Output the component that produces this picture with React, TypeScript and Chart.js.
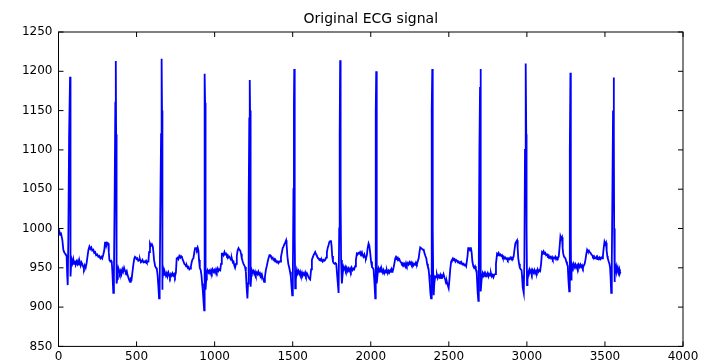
import React, { useEffect, useRef } from "react";
import { Chart, registerables } from "chart.js";

Chart.register(...registerables);

const chartTitle = "Original ECG signal";
const xRange = [0, 4000];
const xStep = 500;
const yRange = [850, 1250];
const yStep = 50;

// [sample index, amplitude]
const ecgTrace: [number, number][] = [
  [0,1000],[5,997],[10,992],[15,995],[20,990],[25,985],[31,973],[36,970],[42,968],[48,966],[52,965],[56,940],[59,928],[63,990],[68,1120],[74,1193],[76,1100],[78,939],[81,955],[85,960],[90,956],[95,961],[100,955],[105,959],[110,954],[116,958],[121,955],[126,959],[132,954],[137,957],[142,953],[147,957],[152,955],[157,952],[163,949],[168,953],[174,950],[180,956],[186,965],[192,973],[198,977],[204,974],[210,976],[216,972],[223,973],[229,969],[235,970],[241,966],[248,967],[255,964],[261,965],[268,962],[274,964],[280,962],[287,967],[293,972],[298,982],[302,983],[306,978],[312,982],[319,981],[322,970],[326,960],[332,958],[337,959],[341,958],[345,945],[351,918],[355,940],[360,1050],[364,1160],[367,1213],[369,1120],[371,990],[373,930],[376,936],[380,945],[383,950],[388,947],[393,943],[398,946],[403,942],[409,948],[414,945],[420,950],[426,946],[431,944],[437,946],[442,941],[447,938],[452,935],[458,932],[463,936],[468,935],[474,945],[480,955],[486,962],[490,964],[495,963],[500,961],[506,962],[511,959],[517,960],[522,961],[528,957],[533,958],[538,960],[544,957],[550,958],[555,957],[561,959],[566,957],[571,958],[576,958],[580,970],[586,981],[592,978],[598,980],[604,977],[608,970],[612,960],[619,952],[625,950],[630,948],[635,940],[640,925],[644,911],[648,925],[652,1020],[657,1120],[660,1200],[661,1216],[663,1150],[664,1000],[665,922],[668,935],[672,947],[677,941],[682,944],[688,940],[693,943],[698,939],[704,944],[709,941],[714,938],[720,942],[725,940],[730,943],[736,940],[741,942],[746,939],[752,944],[757,962],[763,963],[768,961],[774,965],[780,963],[785,965],[790,964],[796,960],[801,958],[806,955],[812,954],[817,952],[822,953],[828,950],[833,951],[838,948],[843,949],[848,952],[854,958],[859,961],[864,962],[870,970],[875,975],[881,975],[886,973],[891,976],[896,972],[900,960],[905,950],[911,947],[916,940],[920,930],[924,922],[928,910],[933,896],[935,1000],[937,1197],[939,1160],[941,1050],[943,922],[946,935],[950,944],[955,947],[961,944],[966,946],[971,943],[977,947],[982,944],[987,948],[993,945],[998,947],[1003,944],[1009,948],[1014,945],[1020,949],[1025,946],[1030,948],[1036,947],[1041,955],[1046,968],[1052,968],[1057,966],[1063,970],[1068,967],[1073,968],[1079,965],[1084,966],[1089,963],[1095,964],[1100,962],[1105,960],[1110,962],[1116,957],[1121,958],[1126,953],[1131,950],[1137,955],[1142,965],[1147,972],[1153,975],[1158,973],[1164,972],[1169,968],[1174,962],[1180,958],[1185,955],[1190,953],[1195,951],[1200,945],[1205,925],[1210,911],[1214,930],[1218,1030],[1222,1140],[1225,1189],[1227,1150],[1229,1020],[1232,926],[1235,940],[1238,947],[1243,944],[1248,946],[1254,942],[1259,945],[1264,941],[1270,944],[1275,942],[1280,945],[1286,941],[1291,943],[1296,940],[1302,942],[1307,938],[1312,935],[1317,932],[1322,938],[1328,947],[1335,953],[1340,958],[1345,962],[1351,966],[1356,966],[1361,964],[1367,962],[1372,963],[1377,960],[1383,961],[1388,958],[1393,959],[1399,957],[1404,958],[1409,956],[1415,958],[1420,958],[1425,964],[1431,970],[1436,975],[1441,977],[1447,980],[1452,982],[1458,985],[1461,980],[1466,965],[1472,955],[1478,950],[1483,945],[1488,939],[1493,925],[1497,915],[1501,940],[1505,1050],[1508,1160],[1510,1203],[1512,1120],[1514,990],[1516,924],[1520,935],[1527,947],[1532,943],[1537,946],[1543,942],[1548,945],[1553,941],[1559,944],[1564,940],[1569,943],[1575,941],[1580,944],[1585,940],[1591,943],[1596,941],[1601,938],[1607,936],[1612,935],[1618,948],[1623,960],[1628,963],[1634,966],[1639,968],[1644,970],[1650,967],[1655,965],[1660,963],[1666,962],[1671,960],[1676,961],[1682,959],[1687,960],[1692,958],[1698,960],[1703,959],[1708,960],[1714,963],[1719,970],[1725,976],[1730,979],[1735,983],[1740,984],[1745,985],[1749,978],[1753,965],[1758,958],[1763,956],[1769,955],[1774,956],[1779,955],[1785,940],[1790,928],[1794,918],[1798,1000],[1801,1120],[1804,1214],[1806,1150],[1808,1040],[1810,960],[1815,930],[1820,942],[1825,951],[1830,948],[1836,951],[1841,947],[1846,950],[1852,946],[1857,949],[1862,946],[1868,949],[1873,946],[1878,950],[1884,947],[1889,949],[1894,948],[1900,952],[1905,960],[1911,968],[1916,967],[1921,969],[1927,968],[1932,970],[1937,968],[1943,970],[1948,966],[1953,964],[1959,967],[1964,963],[1969,962],[1975,966],[1980,975],[1986,981],[1991,978],[1996,970],[2002,958],[2008,951],[2013,950],[2018,948],[2024,930],[2029,911],[2031,1000],[2033,1150],[2035,1200],[2037,1120],[2038,1000],[2040,930],[2044,942],[2050,949],[2055,946],[2061,949],[2066,945],[2071,948],[2077,944],[2082,947],[2087,943],[2093,946],[2098,944],[2103,947],[2109,943],[2114,946],[2119,944],[2125,947],[2130,945],[2135,948],[2141,946],[2146,950],[2151,955],[2157,962],[2162,964],[2167,962],[2173,963],[2178,960],[2183,961],[2189,958],[2194,957],[2199,955],[2205,956],[2210,953],[2215,955],[2221,952],[2226,956],[2231,953],[2237,956],[2242,954],[2248,957],[2253,955],[2258,957],[2264,954],[2269,956],[2274,953],[2280,955],[2285,954],[2290,957],[2296,955],[2301,958],[2307,962],[2312,970],[2317,976],[2323,975],[2328,974],[2334,973],[2339,973],[2345,968],[2350,965],[2356,962],[2361,955],[2366,951],[2370,949],[2374,941],[2378,930],[2382,918],[2386,911],[2389,1000],[2392,1150],[2394,1203],[2396,1130],[2398,1000],[2400,940],[2403,915],[2407,930],[2413,939],[2418,938],[2424,941],[2429,937],[2434,940],[2440,938],[2445,941],[2450,937],[2456,940],[2461,939],[2466,942],[2472,938],[2477,935],[2483,930],[2488,932],[2493,928],[2499,924],[2504,935],[2509,948],[2515,958],[2520,960],[2526,962],[2531,960],[2536,961],[2542,958],[2547,960],[2552,959],[2558,957],[2563,958],[2568,956],[2574,957],[2579,955],[2584,956],[2590,954],[2595,955],[2600,953],[2606,954],[2611,952],[2616,952],[2620,965],[2624,975],[2630,975],[2636,972],[2641,976],[2646,970],[2651,958],[2657,952],[2662,950],[2668,952],[2673,948],[2678,946],[2682,930],[2685,918],[2689,908],[2692,960],[2696,1100],[2700,1180],[2702,1203],[2704,1100],[2705,980],[2706,920],[2710,935],[2717,943],[2722,940],[2727,943],[2733,939],[2738,942],[2743,940],[2749,943],[2754,939],[2759,942],[2765,940],[2770,943],[2775,939],[2781,941],[2786,938],[2791,941],[2797,942],[2802,955],[2809,968],[2814,967],[2819,969],[2825,966],[2830,967],[2836,965],[2841,966],[2846,963],[2852,964],[2857,962],[2862,963],[2868,961],[2873,962],[2878,960],[2884,962],[2889,961],[2894,963],[2900,961],[2905,963],[2910,962],[2915,964],[2920,972],[2926,981],[2931,983],[2937,985],[2941,975],[2945,962],[2950,955],[2955,950],[2961,948],[2966,947],[2969,940],[2972,930],[2975,925],[2980,918],[2984,960],[2988,1100],[2991,1180],[2994,1210],[2996,1120],[2998,1000],[3001,928],[3004,935],[3008,940],[3011,945],[3016,948],[3021,944],[3027,947],[3032,943],[3037,947],[3043,944],[3048,947],[3053,943],[3059,946],[3064,944],[3069,948],[3075,945],[3080,947],[3085,946],[3091,955],[3097,970],[3102,969],[3107,971],[3113,968],[3118,969],[3123,966],[3129,967],[3134,965],[3139,966],[3145,963],[3150,964],[3155,962],[3161,964],[3166,961],[3171,963],[3177,962],[3182,964],[3187,961],[3193,963],[3198,962],[3204,964],[3209,975],[3215,990],[3220,987],[3225,989],[3229,975],[3233,968],[3238,964],[3243,963],[3247,962],[3252,958],[3257,955],[3262,952],[3266,935],[3271,920],[3274,960],[3276,1100],[3279,1198],[3281,1100],[3282,990],[3283,935],[3286,948],[3290,954],[3295,951],[3300,955],[3306,951],[3311,954],[3316,950],[3322,953],[3327,950],[3332,954],[3338,951],[3343,954],[3349,951],[3354,953],[3359,950],[3365,953],[3370,955],[3375,960],[3381,968],[3386,973],[3391,971],[3397,972],[3402,970],[3407,969],[3413,967],[3418,966],[3423,964],[3429,965],[3434,962],[3439,962],[3445,964],[3450,961],[3455,963],[3461,961],[3466,963],[3471,961],[3477,963],[3482,962],[3487,965],[3492,975],[3497,983],[3502,980],[3507,982],[3511,972],[3515,965],[3518,962],[3524,958],[3529,955],[3533,950],[3537,935],[3540,918],[3544,960],[3548,1050],[3552,1150],[3556,1192],[3558,1120],[3559,1000],[3561,932],[3564,940],[3568,948],[3572,952],[3577,946],[3582,950],[3587,944],[3592,948],[3596,943],[3600,945],
];

const framePlugin = {
  id: "matlabFrame",
  afterDraw(chart: any) {
    const { ctx, chartArea, scales } = chart;
    const { left, right, top, bottom } = chartArea;
    const tl = 5;
    ctx.save();
    ctx.strokeStyle = "#000";
    ctx.lineWidth = 1;
    ctx.strokeRect(left, top, right - left, bottom - top);
    ctx.beginPath();
    scales.x.ticks.forEach((t: any) => {
      const px = scales.x.getPixelForValue(t.value);
      ctx.moveTo(px, bottom);
      ctx.lineTo(px, bottom - tl);
      ctx.moveTo(px, top);
      ctx.lineTo(px, top + tl);
    });
    scales.y.ticks.forEach((t: any) => {
      const py = scales.y.getPixelForValue(t.value);
      ctx.moveTo(left, py);
      ctx.lineTo(left + tl, py);
      ctx.moveTo(right, py);
      ctx.lineTo(right - tl, py);
    });
    ctx.stroke();
    ctx.restore();
  },
};

export default function App() {
  const canvasRef = useRef<HTMLCanvasElement | null>(null);

  useEffect(() => {
    if (!canvasRef.current) return;
    const chart = new Chart(canvasRef.current, {
      type: "line",
      data: {
        datasets: [
          {
            data: ecgTrace.map(([x, y]) => ({ x, y })),
            borderColor: "#0000ff",
            borderWidth: 1.8,
            pointRadius: 0,
            tension: 0,
            fill: false,
          },
        ],
      },
      options: {
        responsive: false,
        animation: false,
        events: [],
        layout: { padding: { left: 0, right: 27, top: 0, bottom: 0 } },
        plugins: {
          legend: { display: false },
          tooltip: { enabled: false },
          title: {
            display: true,
            text: chartTitle,
            fullSize: false,
            color: "#000",
            font: { family: "DejaVu Sans", size: 14, weight: "normal", lineHeight: 1.2 },
            padding: { top: 11, bottom: 4.2 },
          },
        },
        scales: {
          x: {
            type: "linear",
            min: xRange[0],
            max: xRange[1],
            grid: { display: false, drawTicks: false },
            border: { display: false },
            ticks: {
              stepSize: xStep,
              color: "#000",
              padding: 3,
              maxRotation: 0,
              font: { family: "DejaVu Sans", size: 12 },
              callback: (v: any) => String(v),
            },
            afterFit(scale: any) {
              scale.height = 13.6;
            },
          },
          y: {
            type: "linear",
            min: yRange[0],
            max: yRange[1],
            grid: { display: false, drawTicks: false },
            border: { display: false },
            ticks: {
              stepSize: yStep,
              color: "#000",
              padding: 6,
              font: { family: "DejaVu Sans", size: 12 },
              callback: (v: any) => String(v),
            },
            afterFit(scale: any) {
              scale.width = 58.5;
            },
          },
        },
      },
      plugins: [framePlugin],
    });
    return () => chart.destroy();
  }, []);

  return (
    <div style={{ position: "fixed", left: 0, top: 0, width: 710, height: 360, background: "#fff" }}>
      <canvas ref={canvasRef} width={710} height={360} />
    </div>
  );
}
